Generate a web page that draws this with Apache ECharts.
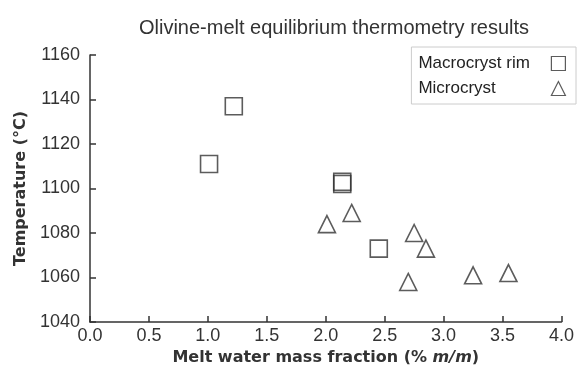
<!DOCTYPE html>
<html><head><meta charset="utf-8">
<script src="https://cdn.jsdelivr.net/npm/echarts@6/dist/echarts.min.js"></script>
<style>html,body{margin:0;padding:0;background:#fff}#c{width:577px;height:374px}</style>
</head><body><div id="c"></div>
<script>
const macroWater = [1.01, 1.22, 2.14, 2.14, 2.45];
const macroTemp  = [1111, 1137, 1103, 1102, 1073];
const microWater = [2.01, 2.22, 2.75, 2.85, 2.70, 3.25, 3.55];
const microTemp  = [1084, 1089, 1080, 1073, 1058, 1061, 1062];
const xTicks = [0.0, 0.5, 1.0, 1.5, 2.0, 2.5, 3.0, 3.5, 4.0];
const yTicks = [1040, 1060, 1080, 1100, 1120, 1140, 1160];

const pair = (xs, ys) => xs.map((x, i) => [x, ys[i]]);
const ink = '#333';
const chart = echarts.init(document.getElementById('c'), null, {renderer: 'canvas'});
chart.setOption({
  animation: false,
  title: {
    text: 'Olivine-melt equilibrium thermometry results',
    left: 329, top: 13, textAlign: 'center',
    textStyle: {fontFamily: 'Liberation Sans', fontSize: 20, fontWeight: 'normal', color: ink}
  },
  legend: {
    orient: 'vertical', right: 1, top: 47, align: 'right',
    borderColor: '#ccc', borderWidth: 1, padding: [7, 10, 6, 7],
    itemWidth: 14, itemHeight: 14, itemGap: 6,
    formatter: '{a|{name}}',
    textStyle: {fontFamily: 'Liberation Sans', fontSize: 17, color: '#222',
      rich: {a: {fontFamily: 'Liberation Sans', fontSize: 17, color: '#222', width: 128, align: 'left', lineHeight: 19, height: 19}}},
    data: [
      {name: 'Macrocryst rim', itemStyle: {borderWidth: 1.2}},
      {name: 'Microcryst', itemStyle: {borderWidth: 1.2}}
    ]
  },
  grid: {left: 90, right: 14, top: 55, bottom: 52},
  xAxis: {
    type: 'value', min: xTicks[0], max: xTicks[xTicks.length - 1], interval: 0.5,
    name: 'Melt water mass fraction (% {i|m/m})',
    nameLocation: 'middle', nameGap: 28,
    nameTextStyle: {fontFamily: 'DejaVu Sans', fontSize: 16, fontWeight: 'bold', color: ink,
      rich: {i: {fontFamily: 'DejaVu Sans', fontSize: 16, fontWeight: 'bold', fontStyle: 'italic', color: ink}}},
    axisLine: {lineStyle: {color: ink, width: 1.5}},
    axisTick: {inside: true, length: 6, lineStyle: {color: ink, width: 1.5}},
    axisLabel: {fontFamily: 'Liberation Sans', fontSize: 18, color: ink, margin: 5,
      formatter: v => v.toFixed(1)},
    splitLine: {show: false}
  },
  yAxis: {
    type: 'value', min: yTicks[0], max: yTicks[yTicks.length - 1], interval: 20,
    name: 'Temperature (°C)', nameLocation: 'middle', nameGap: 58, nameRotate: 90,
    nameTextStyle: {fontFamily: 'DejaVu Sans', fontSize: 16, fontWeight: 'bold', color: ink},
    axisLine: {show: true, lineStyle: {color: ink, width: 1.5}},
    axisTick: {show: true, inside: true, length: 6, lineStyle: {color: ink, width: 1.5}},
    axisLabel: {fontFamily: 'Liberation Sans', fontSize: 18, color: ink, margin: 10,
      formatter: v => String(v)},
    splitLine: {show: false}
  },
  series: [
    {
      name: 'Macrocryst rim', type: 'scatter', symbol: 'rect', symbolSize: 17,
      data: pair(macroWater, macroTemp),
      itemStyle: {color: 'rgba(255,255,255,0)', borderColor: ink, borderWidth: 1.6}
    },
    {
      name: 'Microcryst', type: 'scatter', symbol: 'triangle', symbolSize: 17,
      data: pair(microWater, microTemp),
      itemStyle: {color: 'rgba(255,255,255,0)', borderColor: ink, borderWidth: 1.6}
    }
  ]
});
</script></body></html>
